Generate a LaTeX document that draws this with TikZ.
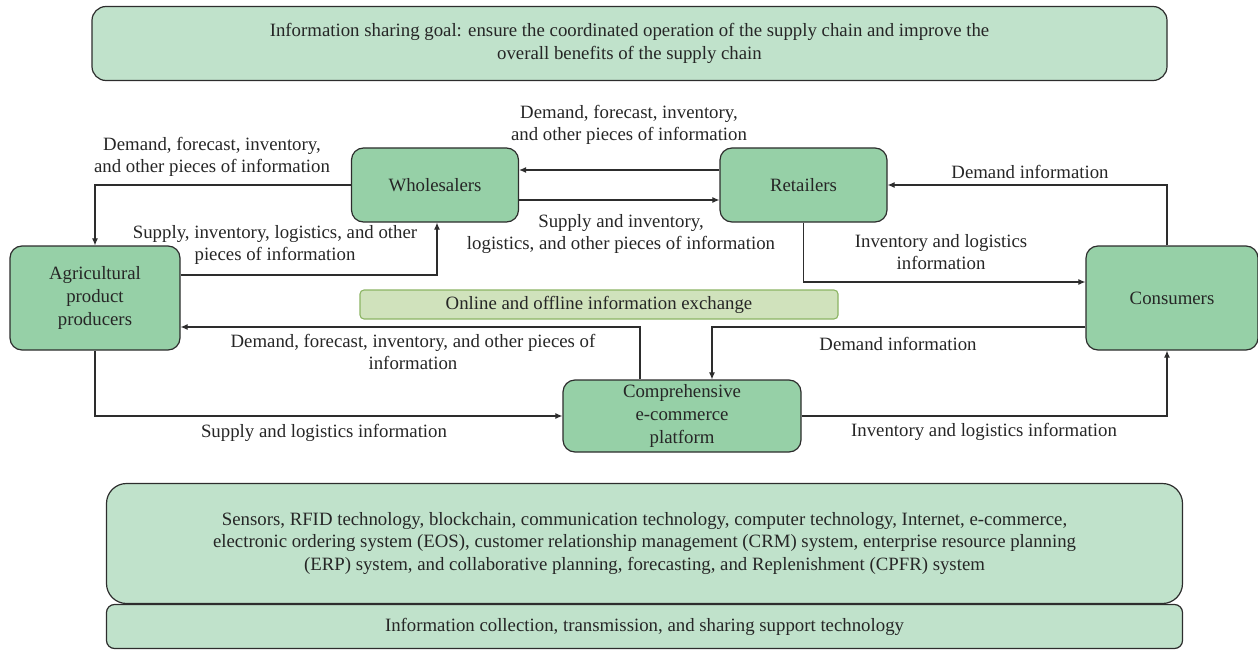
\documentclass[tikz,border=0pt]{standalone}
\usepackage{fontspec}
\setmainfont{Liberation Serif}
\usetikzlibrary{arrows.meta,calc}
\definecolor{mainfill}{RGB}{150,208,167}
\definecolor{lightfill}{RGB}{192,226,203}
\definecolor{onlinefill}{RGB}{208,226,188}
\definecolor{onlinedraw}{RGB}{140,180,100}
\definecolor{edgec}{RGB}{45,45,45}
\begin{document}
\begin{tikzpicture}[x=1pt,y=-1pt,
  font=\fontsize{18.8}{22.6}\selectfont,
  mainbox/.style={draw=edgec,line width=1.2pt,fill=mainfill,rounded corners=12pt,align=center,inner sep=0pt,text=black!85},
  lightbox/.style={draw=edgec,line width=1.2pt,fill=lightfill,align=center,inner sep=0pt,text=black!85},
  lbl/.style={align=center,inner sep=0pt,text=black!85},
  conn/.style={draw=edgec,line width=1.1pt,-{Latex[length=7pt,width=6pt]}}]
\useasboundingbox (0,0) rectangle (1258,650);
% top and bottom boxes
\node[lightbox,rounded corners=14pt,minimum width=1075pt,minimum height=74pt] (goal) at (629.5,43.5)
  {Information sharing goal: ensure the coordinated operation of the supply chain and improve the\\overall benefits of the supply chain};
\node[lightbox,rounded corners=20pt,minimum width=1076pt,minimum height=120pt] (tech) at (644.5,543.5)
  {Sensors, RFID technology, blockchain, communication technology, computer technology, Internet, e-commerce,\\electronic ordering system (EOS), customer relationship management (CRM) system, enterprise resource planning\\(ERP) system, and collaborative planning, forecasting, and Replenishment (CPFR) system};
\node[lightbox,rounded corners=8pt,minimum width=1076pt,minimum height=44pt] (support) at (644.5,626.5)
  {Information collection, transmission, and sharing support technology};
% main nodes
\node[mainbox,minimum width=167pt,minimum height=74pt] (W) at (435,185) {Wholesalers};
\node[mainbox,minimum width=167pt,minimum height=74pt] (R) at (803.5,185) {Retailers};
\node[mainbox,minimum width=170pt,minimum height=104pt] (A) at (95,298) {Agricultural\\product\\producers};
\node[mainbox,minimum width=172pt,minimum height=104pt] (C) at (1172,298) {Consumers};
\node[mainbox,minimum width=238pt,minimum height=72pt] (P) at (682,416) {Comprehensive\\e-commerce\\platform};
\node[draw=onlinedraw,line width=1.1pt,fill=onlinefill,rounded corners=4pt,minimum width=478pt,minimum height=29pt,inner sep=0pt,text=black!85] (O) at (599,304.5) {Online and offline information exchange};
% connectors
\draw[conn] ([yshift=15pt]R.west) -- ([yshift=15pt]W.east);
\draw[conn] ([yshift=-15pt]W.east) -- ([yshift=-15pt]R.west);
\draw[conn] (W.west) -| (A.north);
\draw[conn] ([yshift=23pt]A.east) -| ([xshift=2pt]W.south);
\draw[conn] (R.south) |- ([yshift=16pt]C.west);
\draw[conn] ([xshift=-5pt]C.north) |- (R.east);
\draw[conn] ([xshift=-42pt]P.north) |- ([yshift=-29pt]A.east);
\draw[conn] ([yshift=-29pt]C.west) -| ([xshift=30pt]P.north);
\draw[conn] (A.south) |- (P.west);
\draw[conn] (P.east) -| ([xshift=-5pt]C.south);
% labels
\node[lbl] (l1) at (629,125) {Demand, forecast, inventory,\\and other pieces of information};
\node[lbl] (l2) at (212,157) {Demand, forecast, inventory,\\and other pieces of information};
\node[lbl] (l3) at (275,245) {Supply, inventory, logistics, and other\\pieces of information};
\node[lbl] (l4) at (621,234) {Supply and inventory,\\logistics, and other pieces of information};
\node[lbl] (l5) at (1030,172) {Demand information};
\node[lbl] (l6) at (941,252) {Inventory and logistics\\information};
\node[lbl] (l7) at (413,352) {Demand, forecast, inventory, and other pieces of\\information};
\node[lbl] (l8) at (898,344) {Demand information};
\node[lbl] (l9) at (324,433) {Supply and logistics information};
\node[lbl] (l10) at (984,432) {Inventory and logistics information};
\end{tikzpicture}
\end{document}
